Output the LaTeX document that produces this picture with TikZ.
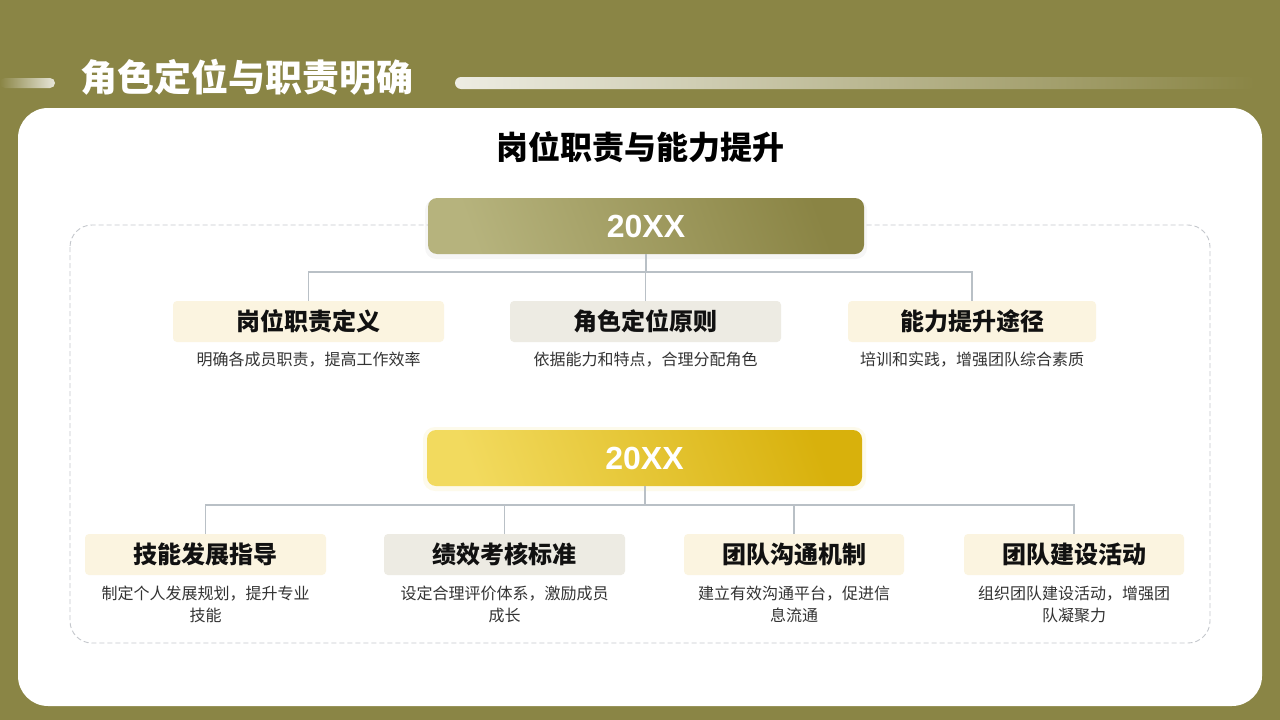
\documentclass[tikz,border=0pt]{standalone}
\usepackage{fontspec}
\setmainfont{Noto Sans CJK SC}
\newfontfamily\latinb{Liberation Sans}
\definecolor{olive}{HTML}{8A8545}
\definecolor{oliveL}{HTML}{B6B37D}
\definecolor{oliveD}{HTML}{8A8444}
\definecolor{goldL}{HTML}{F2DA5E}
\definecolor{goldD}{HTML}{D8B10C}
\definecolor{cream}{HTML}{FBF4E0}
\definecolor{greyb}{HTML}{EDEBE3}
\definecolor{conn}{HTML}{B9C0C6}
\definecolor{framegrey}{HTML}{C4C7CC}
\definecolor{txt}{HTML}{111111}
\definecolor{desc}{HTML}{333333}
\tikzset{
  head/.style={font=\bfseries\fontsize{24}{28}\selectfont, text=txt, inner sep=0pt, minimum height=41pt},
  descr/.style={font=\fontsize{16}{22}\selectfont, text=desc, align=center},
  link/.style={draw=conn, line width=1.3pt},
  year/.style={font=\latinb\bfseries\fontsize{32}{36}\selectfont, text=white}
}
\begin{document}
\begin{tikzpicture}[x=1pt,y=-1pt]
\useasboundingbox (0,0) rectangle (1280,720);
\fill[olive] (0,0) rectangle (1280,720);
% header bars
\shade[left color=olive, right color=white!80!olive, rounded corners=5pt] (0,78) rectangle (55,88);
\shade[left color=white!85!olive, right color=olive, rounded corners=6pt] (455,77) rectangle (1255,89);
\node[font=\bfseries\fontsize{37}{42}\selectfont, text=white, anchor=west] (title) at (77,77) {角色定位与职责明确};
% panel
\fill[white, rounded corners=30pt] (18,108) rectangle (1262,706);
\node[font=\bfseries\fontsize{32}{36}\selectfont, text=black] (sub) at (640,147) {岗位职责与能力提升};
% dashed frame
\draw[draw=framegrey, line width=0.9pt, rounded corners=22pt, dash pattern=on 5pt off 3pt] (70,225) rectangle (1210,643);

% top year box
\fill[black, opacity=0.035, rounded corners=11pt] (425,199) rectangle (867,259);
\shade[left color=oliveL, right color=oliveD, shading angle=110, rounded corners=9pt] (428,198) rectangle (864,254);
\node[year] (y1) at (646,226) {20XX};
\coordinate (y1b) at (646,254);

% row 1
\fill[cream, rounded corners=4pt] (173,301) rectangle (444,342);
\node[head] (a1) at (308.5,321.5) {岗位职责定义};
\fill[greyb, rounded corners=4pt] (510,301) rectangle (781,342);
\node[head] (a2) at (645.5,321.5) {角色定位原则};
\fill[cream, rounded corners=4pt] (848,301) rectangle (1096,342);
\node[head] (a3) at (972,321.5) {能力提升途径};
\node[descr] (d1) at (308.5,360) {明确各成员职责，提高工作效率};
\node[descr] (d2) at (645.5,360) {依据能力和特点，合理分配角色};
\node[descr] (d3) at (972,360) {培训和实践，增强团队综合素质};
\coordinate (a1t) at (308.5,301);
\coordinate (a2t) at (645.5,301);
\coordinate (a3t) at (972,301);
\draw[link] (y1b) -- (646,272);
\draw[link] (a1t) -- (308.5,272) -- (972,272) -- (a3t);
\draw[link] (a2t) -- (645.5,272);

% second year box
\fill[goldL, opacity=0.12, rounded corners=12pt] (423,427) rectangle (866,491);
\shade[left color=goldL, right color=goldD, shading angle=110, rounded corners=9pt] (427,430) rectangle (862,486);
\node[year] (y2) at (644.5,458) {20XX};
\coordinate (y2b) at (645,486);

% row 2
\fill[cream, rounded corners=4pt] (85,534) rectangle (326,575);
\node[head] (b1) at (205.5,554.5) {技能发展指导};
\fill[greyb, rounded corners=4pt] (384,534) rectangle (625,575);
\node[head] (b2) at (504.5,554.5) {绩效考核标准};
\fill[cream, rounded corners=4pt] (684,534) rectangle (904,575);
\node[head] (b3) at (794,554.5) {团队沟通机制};
\fill[cream, rounded corners=4pt] (964,534) rectangle (1184,575);
\node[head] (b4) at (1074,554.5) {团队建设活动};
\node[descr] (e1) at (205.5,604) {制定个人发展规划，提升专业\\技能};
\node[descr] (e2) at (504.5,604) {设定合理评价体系，激励成员\\成长};
\node[descr] (e3) at (794,604) {建立有效沟通平台，促进信\\息流通};
\node[descr] (e4) at (1074,604) {组织团队建设活动，增强团\\队凝聚力};
\coordinate (b1t) at (205.5,534);
\coordinate (b2t) at (504.5,534);
\coordinate (b3t) at (794,534);
\coordinate (b4t) at (1074,534);
\draw[link] (y2b) -- (645,505);
\draw[link] (b1t) -- (205.5,505) -- (1074,505) -- (b4t);
\draw[link] (b2t) -- (504.5,505);
\draw[link] (b3t) -- (794,505);
\end{tikzpicture}
\end{document}
